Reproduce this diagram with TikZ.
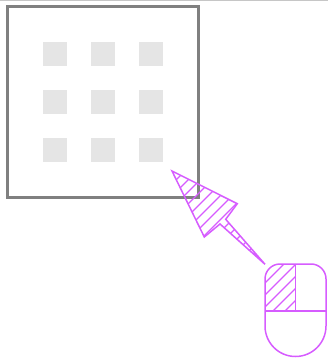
\documentclass[tikz,border=0pt]{standalone}
\usepackage{tikz}
\usetikzlibrary{positioning}
\definecolor{pointerpink}{HTML}{D65CFF}
\definecolor{cellgray}{HTML}{E5E5E5}
\definecolor{framegray}{HTML}{808080}
\tikzset{
    cell/.style={rectangle, fill=cellgray, minimum width=24pt, minimum height=24pt, inner sep=0pt},
    pointerline/.style={draw=pointerpink, line width=1.5pt, line join=miter},
    hatchline/.style={pointerpink, line width=1.2pt}
}
\newcommand{\hatchlines}{
    \foreach \c in {332,344,...,650} {
        \draw[hatchline] (\c-400,400) -- (\c,0);
    }
}
\begin{document}
\begin{tikzpicture}[x=1pt, y=-1pt]
    \useasboundingbox (0,0) rectangle (328,358);

    % Top edge
    \draw[gray!45, line width=1.2pt] (0,0.4) -- (328,0.4);

    % Grid of cells
    \foreach \row/\y in {1/54, 2/102, 3/150} {
        \foreach \col/\x in {1/55, 2/103, 3/151} {
            \node (cell\row\col) [cell] at (\x,\y) {};
        }
    }

    % Frame
    \draw[framegray, line width=3pt] (7,6.5) rectangle (198,197.5);

    % Arrow pointer
    \begin{scope}
        \clip (172,171) -- (237.3,203.7) -- (225.7,219.3) -- (265,264.3) -- (220,224) -- (204.3,237) -- cycle;
        \hatchlines
    \end{scope}
    \draw[pointerline] (172,171) -- (237.3,203.7) -- (225.7,219.3) -- (265,264.3) -- (220,224) -- (204.3,237) -- cycle;

    % Left button
    \begin{scope}
        \clip (265,311) -- (265,279) arc[start angle=180, end angle=270, radius=15] -- (295.5,264) -- (295.5,311) -- cycle;
        \hatchlines
    \end{scope}

    % Mouse
    \draw[pointerline] (265,279) arc[start angle=180, end angle=270, radius=15]
        -- (311,264) arc[start angle=270, end angle=360, radius=15]
        -- (326,326) arc[start angle=0, end angle=180, radius=30.5] -- cycle;
    \draw[pointerline] (265,311) -- (326,311);
    \draw[pointerline] (295.5,264) -- (295.5,311);
\end{tikzpicture}
\end{document}
